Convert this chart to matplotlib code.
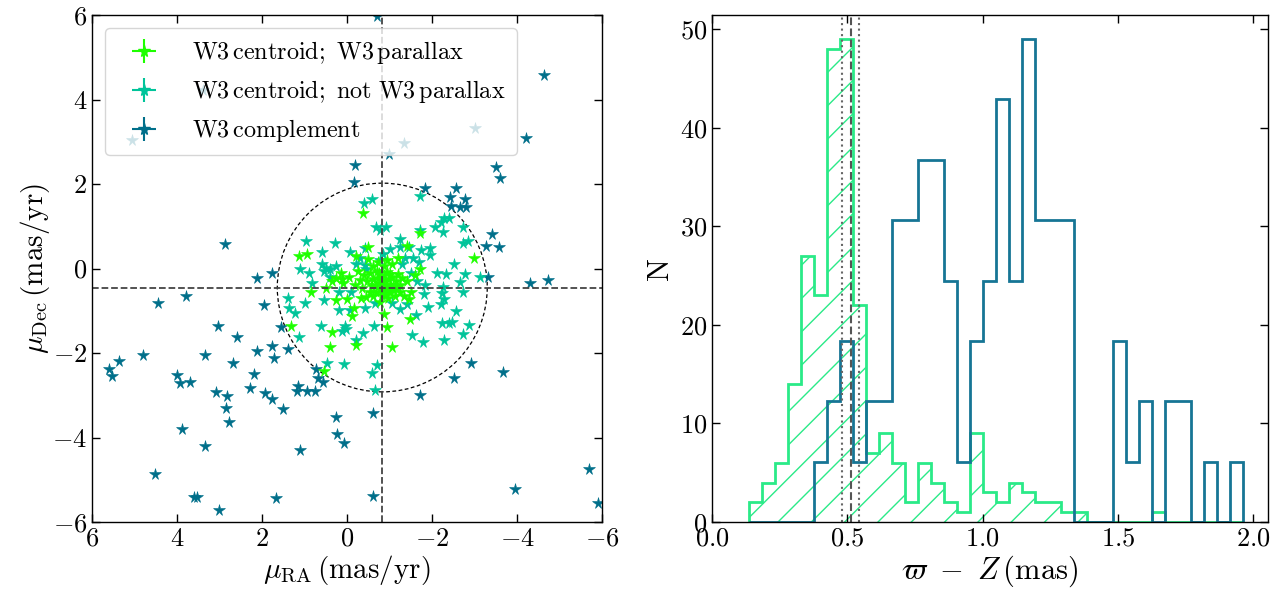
import numpy as np
import matplotlib
matplotlib.use("Agg")
import matplotlib.pyplot as plt
from matplotlib.patches import Circle

plt.rcParams['font.family'] = 'serif'
plt.rcParams['font.serif'] = ['cmr10']
plt.rcParams['mathtext.fontset'] = 'cm'
plt.rcParams['axes.formatter.use_mathtext'] = True
plt.rcParams['axes.unicode_minus'] = True

# ---- proper motion data (mu_RA, mu_Dec) in mas/yr ----
lime_pts = [
    (-0.38, 1.32), (-1.72, 0.83), (1.13, 0.30), (0.93, 0.34), (-0.49, 0.50), (-1.41, 0.53),
    (-2.98, 0.24), (0.85, -0.55), (1.32, -1.37), (0.35, -1.50), (0.41, -1.86), (-0.22, -1.82),
    (-0.86, -1.08), (-0.94, -1.39), (-1.49, -1.20), (-1.06, -1.85), (0.55, -2.43), (-0.12, -1.12),
    (-0.16, -0.94), (0.25, -0.75), (0.00, -0.73), (-0.33, -0.71), (-1.47, -0.73), (-1.72, -0.02),
    (0.27, -0.23), (0.11, -0.26),
    (-0.55, -0.10), (-0.62, -0.25), (-0.70, -0.05), (-0.75, -0.35), (-0.80, -0.18), (-0.85, -0.45),
    (-0.90, -0.28), (-0.95, -0.08), (-1.00, -0.38), (-1.05, -0.20), (-1.10, -0.52), (-1.15, -0.30),
    (-1.20, -0.12), (-0.68, -0.55), (-0.58, -0.42), (-0.48, -0.30), (-0.40, -0.15), (-0.35, -0.45),
    (-0.88, 0.05), (-0.72, 0.15), (-0.95, 0.20), (-1.25, -0.40), (-1.30, -0.22), (-0.82, -0.62),
    (-0.97, -0.70), (-1.12, -0.65), (-0.30, -0.28), (-0.25, -0.05), (-0.18, -0.38), (-0.05, -0.20),
    (0.10, -0.35), (0.15, -0.10), (-1.40, -0.30), (-1.50, -0.55), (-1.35, -0.65), (-0.60, 0.05),
    (-0.50, 0.22), (-1.05, 0.10), (-0.78, -0.80), (-0.45, -0.68), (-1.60, -0.15), (0.35, -0.30),
    (0.50, -0.45), (-0.20, 0.30), (-1.20, 0.25),
    (-0.82, -0.30), (-0.88, -0.15), (-0.92, -0.40), (-0.98, -0.25), (-0.78, -0.48), (-1.02, -0.55),
    (-0.72, -0.22), (-0.85, -0.58), (-1.08, -0.42), (-0.65, -0.38), (-0.95, -0.50), (-1.18, -0.45),
    (-0.75, -0.10), (-0.90, -0.62), (-1.00, -0.12), (-0.62, -0.65), (-1.25, -0.55), (-0.55, -0.55),
]

tg_pts = [
    (0.97, 0.65), (0.29, 0.61), (0.59, 0.40), (0.58, 0.11), (0.50, 0.01), (0.27, 0.05),
    (0.83, -0.35), (1.38, -0.69), (0.98, -0.81), (0.53, -0.75), (1.36, -0.94), (1.22, -1.05),
    (0.20, -0.98), (-0.08, -0.98), (0.61, -1.36), (0.04, -1.36), (0.12, -1.47), (-0.38, -1.52),
    (-0.63, -1.36), (-0.22, -1.69), (1.12, -1.63), (0.47, -2.23), (0.08, -2.27), (-0.71, -2.28),
    (-0.59, -2.47), (-0.66, -2.87), (-1.53, -1.57), (-1.79, -1.73), (-2.29, -1.69), (-1.63, -1.10),
    (-1.90, -0.90), (-2.20, -0.85), (-2.24, -1.28), (-2.41, -1.28), (-2.47, -1.26), (-2.72, -1.55),
    (-2.88, -1.34), (-2.57, -1.00), (-2.29, -0.72), (-2.24, -0.59), (-2.27, -0.43), (-2.72, -0.56),
    (-2.65, -0.31), (-3.12, -0.19), (-2.77, -0.14), (-2.52, 0.11), (-2.33, -0.13), (-2.12, -0.11),
    (-1.84, -0.39), (-1.06, -0.82), (-0.67, -0.82), (-0.43, -0.94), (0.02, -1.44),
    (-0.41, 1.56), (-0.59, 1.64), (-0.78, 0.90), (-0.92, 0.99), (-0.69, 0.99), (-1.72, 1.72),
    (-1.25, 0.69), (-1.72, 0.91), (-1.75, 0.44), (-1.96, 0.48), (-2.08, 0.99), (-2.20, 1.11),
    (-2.29, 1.19), (-2.39, 1.19), (-2.27, 0.87), (-2.72, 0.99), (-2.85, 0.66), (-2.74, 0.61),
    (-0.06, 0.40), (-0.43, 0.48), (-1.25, 0.52), (-1.47, 0.52),
    (0.55, -0.05), (0.40, -0.20), (-0.20, 0.10), (-0.30, 0.25), (-0.45, 0.00), (-1.30, 0.10),
    (-1.50, -0.10), (-1.65, -0.30), (-1.40, -0.85), (-1.25, -0.95), (-0.10, -0.55), (0.20, -0.55),
    (-1.80, -0.60), (-1.70, 0.15), (-0.85, 0.35), (-1.00, 0.45), (-1.55, 0.25), (1.10, 0.00),
    (0.90, -0.10), (-0.78, 0.20), (-0.43, 0.08), (0.39, 0.00), (-1.37, 0.24), (-1.96, 0.32),
]

comp_pts = [
    (-0.70, 5.97), (-4.63, 4.57), (-4.22, 3.08), (-0.98, 2.71), (-0.18, 2.45), (-0.16, 2.05),
    (-3.51, 2.41), (-3.61, 2.15), (-1.84, 1.90), (-2.56, 1.90), (-2.43, 1.70), (-2.77, 1.64),
    (-2.45, 1.49), (-2.67, 1.46), (-2.80, 1.46), (-3.41, 0.81), (-3.28, 0.54), (-3.57, 0.52),
    (2.86, 0.58), (5.06, 3.04), (-1.33, 2.98), (-3.02, 3.32), (3.38, 4.22),
    (-3.32, -0.19), (-4.31, -0.35), (-4.74, -0.27), (-2.92, -2.24), (-3.67, -2.46), (-2.52, -2.60),
    (-1.72, -2.99), (-5.70, -4.75), (-3.96, -5.23), (-5.90, -5.56), (-0.60, -3.43), (-0.60, -5.38),
    (3.03, -1.36), (2.60, -1.63), (1.56, -1.38), (1.76, -1.83), (1.72, -2.11), (2.11, -1.95),
    (1.39, -1.91), (4.80, -2.05), (3.35, -2.05), (2.68, -2.23), (5.36, -2.19), (5.59, -2.38),
    (5.54, -2.54), (3.99, -2.52), (3.92, -2.70), (3.69, -2.69), (2.18, -2.50), (3.08, -2.93),
    (2.82, -3.01), (2.29, -2.84), (1.92, -2.95), (1.77, -3.10), (2.85, -3.31), (1.51, -3.33),
    (2.78, -3.64), (0.72, -2.38), (0.68, -2.58), (0.56, -2.69), (1.15, -2.77), (1.17, -2.90),
    (0.93, -2.90), (0.75, -2.90), (0.27, -3.52), (0.23, -3.92), (0.07, -4.14), (3.89, -3.80),
    (3.34, -4.19), (4.52, -4.86), (3.60, -5.42), (3.52, -5.42), (3.01, -5.72), (1.68, -5.44),
    (1.11, -4.30), (2.11, -0.23), (1.77, -0.11), (3.78, -0.65), (4.45, -0.81), (1.95, -0.86),
]

center_ra, center_dec, radius = -0.83, -0.45, 2.47

# ---- parallax histograms ----
bin_start, bin_width = 0.137, 0.04805
green_counts = [2, 4, 6, 14, 27, 23, 48, 49, 22, 7, 9, 6, 2, 6, 4, 2, 1, 9, 3, 2,
                4, 3, 2, 2, 1, 1, 0, 0, 0, 0, 0, 1, 0, 0, 0, 0, 0, 0]
teal_counts = [0, 0, 0, 0, 0, 6.1, 12.25, 18.4, 6.1, 12.25, 12.25, 30.6, 30.6, 36.75, 36.75,
               24.5, 6.1, 18.4, 24.5, 42.9, 24.5, 49, 30.6, 30.6, 30.6, 0, 0, 0, 18.4, 6.1,
               12.25, 0, 12.25, 12.25, 0, 6.1, 0, 6.1]
plx_mean, plx_lo, plx_hi = 0.512, 0.481, 0.542

c_lime = '#1eff00'
c_tg = '#00c49a'
c_comp = '#006f8a'
c_hgreen = '#2aea88'
c_hteal = '#167595'

fig = plt.figure(figsize=(12.81, 5.93), dpi=100)
ax1 = fig.add_axes([92 / 1281, 1 - 522 / 593, 510 / 1281, 507 / 593])
ax2 = fig.add_axes([712 / 1281, 1 - 522 / 593, 556 / 1281, 507 / 593])

ms = 8.5
for pts, col in [(comp_pts, c_comp), (tg_pts, c_tg), (lime_pts, c_lime)]:
    a = np.array(pts)
    ax1.plot(a[:, 0], a[:, 1], '*', color=col, ms=ms, mew=0.4)

labels = [r'$\mathrm{W3\,centroid;\ W3\,parallax}$',
          r'$\mathrm{W3\,centroid;\ not\ W3\,parallax}$',
          r'$\mathrm{W3\,complement}$']
handles = []
for col, lab in zip([c_lime, c_tg, c_comp], labels):
    h = ax1.errorbar([np.nan], [np.nan], xerr=[1], yerr=[1], fmt='*', color=col, ms=ms,
                     label=lab)
    handles.append(h)

ax1.axvline(center_ra, color='#444444', ls='--', lw=1.3)
ax1.axhline(center_dec, color='#444444', ls='--', lw=1.3)
ax1.add_patch(Circle((center_ra, center_dec), radius, fill=False, ls=(0, (3, 2)),
                     lw=0.9, color='black'))

ax1.set_xlim(6, -6)
ax1.set_ylim(-6, 6)
ax1.set_xticks([6, 4, 2, 0, -2, -4, -6])
ax1.set_yticks([-6, -4, -2, 0, 2, 4, 6])
ax1.set_xlabel(r'$\mu_{\rm RA}\,({\rm mas/yr})$', fontsize=21, labelpad=2)
ax1.set_ylabel(r'$\mu_{\rm Dec}\,({\rm mas/yr})$', fontsize=21, labelpad=0)
leg = ax1.legend(handles=handles, loc='upper left', fontsize=17.4, framealpha=0.8,
                 handlelength=2.3, handletextpad=0.85, labelspacing=0.5,
                 borderaxespad=0.55, borderpad=0.45)

edges = bin_start + bin_width * np.arange(len(green_counts) + 1)
ax2.stairs(green_counts, edges, color=c_hgreen, lw=2, hatch='/', fill=False)
ax2.stairs(teal_counts, edges, color=c_hteal, lw=2)
ax2.axvline(plx_mean, color='#555555', ls='--', lw=1.5)
ax2.axvline(plx_lo, color='#666666', ls=':', lw=1.5)
ax2.axvline(plx_hi, color='#666666', ls=':', lw=1.5)
ax2.set_xlim(0, 2.055)
ax2.set_ylim(0, 51.45)
ax2.set_xticks([0, 0.5, 1.0, 1.5, 2.0])
ax2.set_yticks([0, 10, 20, 30, 40, 50])
ax2.set_xlabel(r'$\varpi\ -\ Z\,({\rm mas})$', fontsize=22, labelpad=2)
ax2.set_ylabel('N', fontsize=22)

for ax in (ax1, ax2):
    ax.tick_params(direction='in', top=True, right=True, labelsize=19, length=6, width=1)
    for s in ax.spines.values():
        s.set_linewidth(1)

fig.savefig('out.png', dpi=100)
